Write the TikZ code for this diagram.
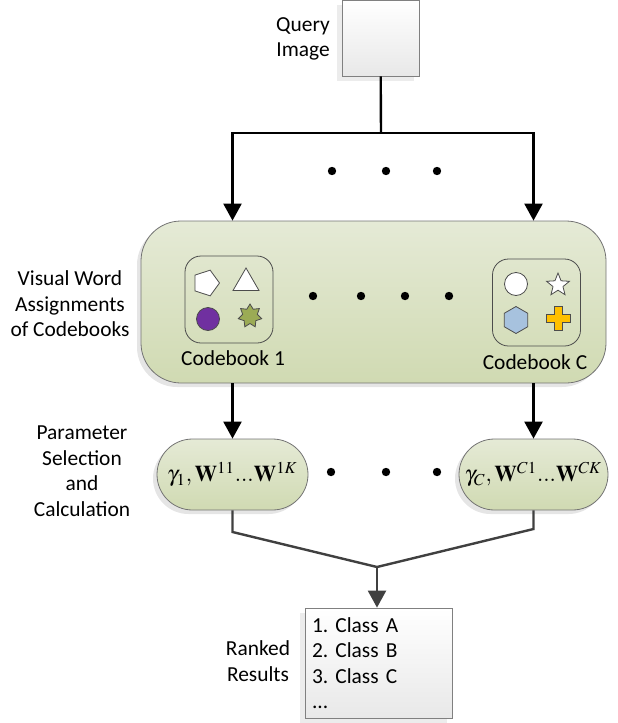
\documentclass[tikz,border=0pt]{standalone}
\usepackage{amsmath}
\usepackage{mathptmx}
\usepackage[no-math]{fontspec}
\setmainfont{Carlito}
\usetikzlibrary{arrows.meta,shapes.geometric,shadows}
\definecolor{paletop}{RGB}{229,234,214}
\definecolor{palebot}{RGB}{208,218,178}
\definecolor{gemviolet}{RGB}{112,48,160}
\definecolor{gemolive}{RGB}{155,171,85}
\definecolor{gemblue}{RGB}{167,194,222}
\definecolor{gemgold}{RGB}{255,192,0}

\begin{document}
\frenchspacing
\begin{tikzpicture}[x=0.5pt,y=-0.5pt,
    every node/.style={font=\fontsize{10.7}{12.75}\selectfont},
    arr/.style={-{Triangle[width=9pt,length=8.5pt]}},
    greenbox/.style={draw=black!55, top color=paletop, bottom color=palebot,
      drop shadow={shadow xshift=-2pt, shadow yshift=-2pt, fill=black!20}},
    paperbox/.style={draw=black!50, top color=white, bottom color=black!9,
      drop shadow={shadow xshift=-2.5pt, shadow yshift=-2.5pt, fill=black!15}},
    cbbox/.style={draw=black!70, rounded corners=8pt, minimum width=44pt, minimum height=43.5pt},
    glyph/.style={draw=black!70, thin, inner sep=0pt},
    darkline/.style={draw=black!75, line width=1.2pt}]
    \useasboundingbox (0,0) rectangle (617,723);

    % query
    \node (query)[paperbox, minimum width=38.5pt, minimum height=38pt] at (380.5,38) {};
    \node (qlabel) at (303,39) [align=center] {Query\\Image};
    \coordinate (split) at (381,133);

    % codebooks
    \node (assign)[greenbox, rounded corners=20pt, minimum width=232.5pt, minimum height=81pt] at (373.5,302) {};
    \node (alabel) at (70,304) [align=center] {Visual Word\\Assignments\\of Codebooks};
    \node (cb1)[cbbox] at (229,299.5) {};
    \node (cbC)[cbbox] at (536.5,302.5) {};
    \node (cb1label) at (233,358) {Codebook 1};
    \node (cbClabel) at (535,362) {Codebook C};

    \node (penta)[glyph, regular polygon, regular polygon sides=5, shape border rotate=-90, fill=white, minimum size=13.5pt] at (206,283) {};
    \node (tri)[glyph, regular polygon, regular polygon sides=3, fill=white, minimum size=15pt] at (246,283) {};
    \node (disc)[glyph, circle, fill=gemviolet, minimum size=11.5pt] at (208,319) {};
    \node (burst)[glyph, star, star points=7, star point ratio=1.6, fill=gemolive, minimum size=12pt] at (250,316) {};

    \node (ring)[glyph, circle, fill=white, minimum size=11.5pt] at (516,284) {};
    \node (starC)[glyph, star, star points=5, star point ratio=2.3, fill=white, minimum size=12pt] at (558,285) {};
    \node (hexa)[glyph, regular polygon, regular polygon sides=6, shape border rotate=90, fill=gemblue, minimum size=13.5pt] at (516,320) {};
    \filldraw[draw=black!70, thin, fill=gemgold]
      (554,306) -- (562,306) -- (562,314) -- (570,314) -- (570,322) -- (562,322) -- (562,330)
      -- (554,330) -- (554,322) -- (546,322) -- (546,314) -- (554,314) -- cycle;

    % parameters
    \node (param1)[greenbox, rounded corners=17.75pt, minimum width=75.5pt, minimum height=35.5pt, inner sep=1pt] at (232.5,474.5)
      {\fontsize{11.3}{13}\selectfont $\gamma_1,\mathbf{W}^{11}\mathrm{...}\mathbf{W}^{1K}$};
    \node (paramC)[greenbox, rounded corners=17.75pt, minimum width=74.5pt, minimum height=35.5pt, inner sep=1pt] at (533.5,474.5)
      {\fontsize{11.3}{13}\selectfont $\gamma_C,\mathbf{W}^{C1}\mathrm{...}\mathbf{W}^{CK}$};
    \node (plabel) at (82,471) [align=center] {Parameter\\Selection\\and\\Calculation};
    \coordinate (kink1) at (232.5,532);
    \coordinate (kinkC) at (533.5,529);
    \coordinate (merge) at (377,567);

    % results
    \node (ranked)[paperbox, minimum width=73.5pt, minimum height=55pt, text width=66.5pt, align=left, inner xsep=3.5pt] at (378.5,663)
      {1. Class A\\2. Class B\\3. Class C\\...};
    \node (rlabel) at (258,661) [align=center] {Ranked\\Results};

    % dots
    \foreach \x in {332,386,437}
      \fill (\x,171) circle (2.1pt);
    \foreach \x in {313,361,405,449}
      \fill (\x,296) circle (2.1pt);
    \foreach \x in {331,386,437}
      \fill (\x,472) circle (2.1pt);

    % connectors
    \draw[line width=1.2pt] (query) -- (split);
    \draw[line width=1.2pt, arr] (split) -| (param1 |- assign.north);
    \draw[line width=1.2pt, arr] (split) -| (paramC |- assign.north);
    \draw[line width=1.2pt, arr] (assign.south -| param1) -- (param1);
    \draw[line width=1.2pt, arr] (assign.south -| paramC) -- (paramC);
    \draw[darkline] (param1) -- (kink1) -- (merge);
    \draw[darkline] (paramC) -- (kinkC) -- (merge);
    \draw[darkline, arr] (merge) -- (ranked.north -| merge);
\end{tikzpicture}
\end{document}
